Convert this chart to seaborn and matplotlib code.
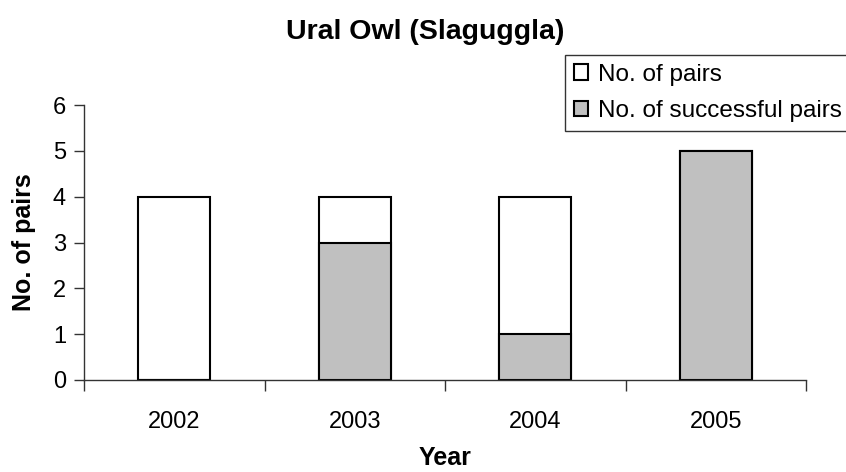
import matplotlib
matplotlib.use('Agg')
import matplotlib.pyplot as plt
import seaborn as sns
import pandas as pd

# dados
anos = ['2002', '2003', '2004', '2005']
pares = [4, 4, 4, 5]
pares_sucesso = [0, 3, 1, 5]

df = pd.DataFrame({'ano': anos, 'pares': pares, 'sucesso': pares_sucesso})

sns.set_style('white')
plt.rcParams['font.family'] = ['Liberation Sans', 'DejaVu Sans']
plt.rcParams.update({'text.color': 'black', 'axes.labelcolor': 'black',
                     'xtick.color': 'black', 'ytick.color': 'black'})

fig = plt.figure(figsize=(8.46, 4.72), dpi=100)
ax = fig.add_axes([84/846, 1 - 380/472, (806 - 84)/846, (380 - 105)/472])

sns.barplot(x='ano', y='pares', data=df, color='white', edgecolor='black',
            linewidth=1.5, width=0.4, saturation=1, ax=ax, label='No. of pairs')
sns.barplot(x='ano', y='sucesso', data=df, color='#c0c0c0', edgecolor='black',
            linewidth=1.5, width=0.4, saturation=1, ax=ax, label='No. of successful pairs')

ax.set_xlim(-0.5, 3.5)
ax.set_ylim(0, 6)
ax.set_yticks(range(0, 7))
ax.set_xticks([-0.5, 0.5, 1.5, 2.5, 3.5], minor=False)
ax.set_xticklabels([])
ax.set_xticks(range(4), minor=True)
ax.set_xticklabels(anos, minor=True)
ax.tick_params(axis='x', which='major', direction='out', length=8, width=1, color='#333333', bottom=True)
ax.tick_params(axis='x', which='minor', length=0, pad=22, labelsize=17)
ax.tick_params(axis='y', direction='out', length=7, width=1, color='#333333', left=True, labelsize=17, pad=6)

for spine in ['top', 'right']:
    ax.spines[spine].set_visible(False)
for spine in ['left', 'bottom']:
    ax.spines[spine].set_color('#333333')
    ax.spines[spine].set_linewidth(1)

ax.set_xlabel('')
ax.set_ylabel('No. of pairs', fontsize=18, fontweight='bold', labelpad=12)
fig.text(445/846, 1 - 458/472, 'Year', ha='center', va='center',
         fontsize=18, fontweight='bold')
fig.text(0.503, 1 - 32/472, 'Ural Owl (Slaguggla)', ha='center', va='center',
         fontsize=20.5, fontweight='bold')

leg = fig.legend(*ax.get_legend_handles_labels(), loc='upper left',
                 bbox_to_anchor=(565/846, 1 - 55/472), fontsize=17.5,
                 frameon=True, fancybox=False, edgecolor='black',
                 handlelength=0.6, handleheight=0.6, handletextpad=0.4,
                 borderpad=0.35, labelspacing=0.6, borderaxespad=0)
leg.get_frame().set_linewidth(1)
if ax.get_legend() is not None:
    ax.get_legend().remove()

fig.savefig('out.png', dpi=100)
